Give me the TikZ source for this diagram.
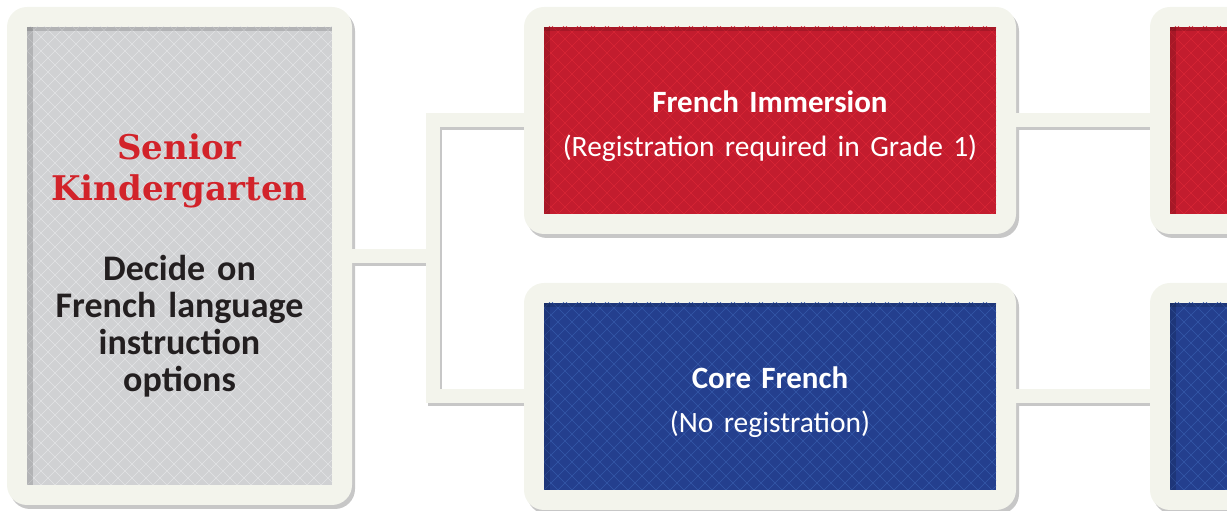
\documentclass[tikz,border=0pt]{standalone}
\usepackage{fontspec}
\setmainfont{Carlito}
\newfontfamily\titleserif{DejaVu Serif}
\usetikzlibrary{positioning, backgrounds}

\definecolor{frame}{HTML}{F3F4EC}
\definecolor{skgray}{HTML}{D0D1D3}
\definecolor{skgrayln}{HTML}{E3E4E6}
\definecolor{fired}{HTML}{C31C2E}
\definecolor{firedln}{HTML}{D82636}
\definecolor{cfblue}{HTML}{243F8E}
\definecolor{cfblueln}{HTML}{3558A8}
\definecolor{skred}{HTML}{D2232A}
\definecolor{ink}{HTML}{231F20}

\newcommand{\regnote}[1]{{\fontsize{29.5}{44}\selectfont #1}}

\begin{document}
\begin{tikzpicture}[
            x = 1pt, y = 1pt, % work in pixels
            node distance = 134pt, % gap between the columns
            panel/.style 2 args = {
                fill = frame,
                rounded corners = 20pt,
                inner sep = 0pt,
                outer sep = 0pt,
                align = center,
                path picture = {
                    \path ([shift={(20pt,20pt)}]path picture bounding box.south west) coordinate (insw)
                          ([shift={(-20pt,-20pt)}]path picture bounding box.north east) coordinate (inne);
                    \begin{scope}[sharp corners]
                    \clip (insw) rectangle (inne);
                    \fill[#1] (insw) rectangle (inne);
                    \foreach \d in {-560,-546,...,1100} {
                        \draw[#2, line width = .6pt] ([xshift=\d pt]insw) -- ++(560pt,560pt);
                        \draw[#2, line width = .6pt] ([xshift=\d pt]insw) -- ++(-560pt,560pt);
                    }
                    % inner shade along the top and left
                    \fill[black, opacity = .14] (insw |- inne) rectangle ([xshift=6pt]insw);
                    \fill[black, opacity = .14] (insw |- inne) rectangle ([yshift=-4pt]inne);
                    \end{scope}
                }
            },
            boxshadow/.style = {fill = black!22, rounded corners = 20pt},
            link/.style = {
                draw = frame,
                line width = 14pt,
                preaction = {draw = black!22, line width = 14pt, transform canvas = {shift = {(2pt,-3pt)}}}
            },
            optiontext/.style = {text = white, text width = 470pt, font = \fontsize{31}{44}\selectfont}
        ]

        \useasboundingbox (0,0) rectangle (1227,511);

        % kindergarten choice
        \node[panel = {skgray}{skgrayln}, minimum width = 345pt, minimum height = 498pt, text width = 310pt,
              font = \bfseries\fontsize{36}{37}\selectfont, text = ink] (sk) at (179.5,255)
            {{\titleserif\color{skred}\fontsize{34}{41}\selectfont\rule{0pt}{44pt}Senior\\Kindergarten\\[43pt]}
             Decide on\\French language\\instruction\\options};

        % grade 1 options
        \node[panel = {fired}{firedln}, minimum width = 492pt, minimum height = 227pt, optiontext]
            (fi) [below right = 0pt and 172pt of sk.north east]
            {\rule{0pt}{34pt}\textbf{French Immersion}\\\regnote{(Registration required in Grade 1)}};
        \node[panel = {cfblue}{cfblueln}, minimum width = 492pt, minimum height = 227pt, optiontext]
            (cf) [below = 49pt of fi]
            {\rule{0pt}{34pt}\textbf{Core French}\\\regnote{(No registration)}};

        % next column
        \node[panel = {fired}{firedln}, minimum width = 492pt, minimum height = 227pt] (fi2) [right = of fi] {};
        \node[panel = {cfblue}{cfblueln}, minimum width = 492pt, minimum height = 227pt] (cf2) [right = of cf] {};

        \coordinate (fork) at ([xshift=81pt]sk.east);

        \begin{pgfonlayer}{background}
            \foreach \n in {sk, fi, cf, fi2, cf2}
                \fill[boxshadow] ([shift={(3pt,-4pt)}]\n.south west) rectangle ([shift={(3pt,-4pt)}]\n.north east);

            \draw[link] (sk.east) -- (fork);
            \draw[link] (fi.west) -| (fork) |- (cf.west);
            \draw[link] (fi) -- (fi2);
            \draw[link] (cf) -- (cf2);
        \end{pgfonlayer}

  \end{tikzpicture}
\end{document}
